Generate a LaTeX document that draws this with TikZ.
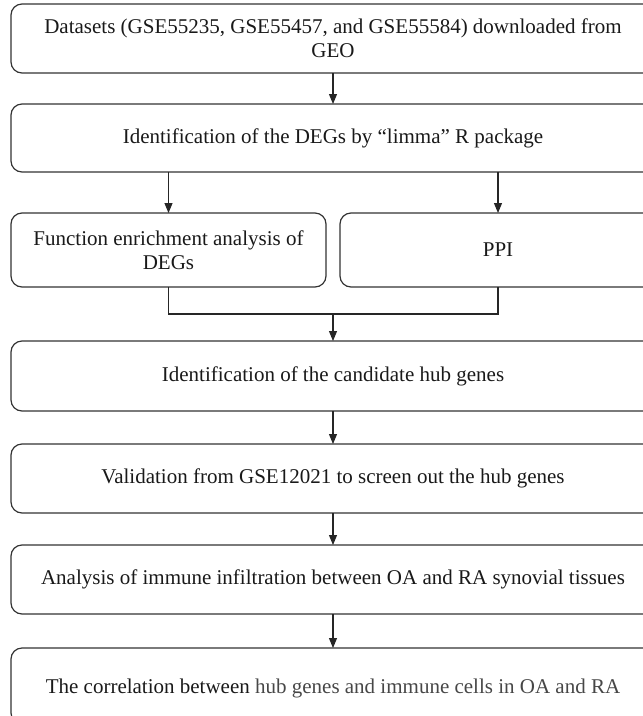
\documentclass[tikz,border=0pt]{standalone}
\usepackage{fontspec}
\setmainfont{Liberation Serif}
\usetikzlibrary{arrows.meta}
\begin{document}
\begin{tikzpicture}[x=1pt,y=-1pt,
  box/.style={draw=black!80, line width=1.2pt, rounded corners=11pt, outer sep=0pt, inner sep=0pt, anchor=north west},
  txt/.style={font=\fontsize{21}{24}\selectfont, text=black!90, align=center, inner sep=0pt},
  arr/.style={line width=1.1pt, draw=black!85, -{Triangle[length=10pt,width=8pt]}},
  ln/.style={line width=1.1pt, draw=black!85}]
\useasboundingbox (0,0) rectangle (643,716);
\clip (0,0) rectangle (643,716);
% boxes
\node[box, minimum width=645pt, minimum height=69pt] (b1) at (11,4) {};
\node[box, minimum width=645pt, minimum height=68pt] (b2) at (11,104) {};
\node[box, minimum width=315pt, minimum height=74pt] (b3l) at (11,213) {};
\node[box, minimum width=316pt, minimum height=74pt] (b3r) at (340,213) {};
\node[box, minimum width=645pt, minimum height=70pt] (b4) at (11,341) {};
\node[box, minimum width=645pt, minimum height=69pt] (b5) at (11,444) {};
\node[box, minimum width=645pt, minimum height=69pt] (b6) at (11,545) {};
\node[box, minimum width=645pt, minimum height=76pt] (b7) at (11,648) {};
% texts
\node[txt] (t1) at (333,38) {Datasets (GSE55235, GSE55457, and GSE55584) downloaded from\\GEO};
\node[txt] (t2) at (333,138) {Identification of the DEGs by “limma” R package};
\node[txt] (t3l) at (168.5,250) {Function enrichment analysis of\\DEGs};
\node[txt] (t3r) at (498,250) {PPI};
\node[txt] (t4) at (333,376) {Identification of the candidate hub genes};
\node[txt] (t5) at (333,478.5) {Validation from GSE12021 to screen out the hub genes};
\node[txt] (t6) at (333,579.5) {Analysis of immune infiltration between OA and RA synovial tissues};
\node[txt] (t7) at (333,688) {The correlation between {\color{black!72}hub genes and immune cells in OA and RA}};
% connectors
\draw[arr] (b1.south -| t1) -- (b2.north -| t1);
\draw[arr] (b2.south -| t3l) -- (b3l.north -| t3l);
\draw[arr] (b2.south -| t3r) -- (b3r.north -| t3r);
\coordinate (m) at (333,314);
\draw[ln] (b3l.south -| t3l) |- (m) -| (b3r.south -| t3r);
\draw[arr] (m) -- (b4.north -| m);
\draw[arr] (b4.south -| t4) -- (b5.north -| t4);
\draw[arr] (b5.south -| t5) -- (b6.north -| t5);
\draw[arr] (b6.south -| t6) -- (b7.north -| t6);
\end{tikzpicture}
\end{document}
